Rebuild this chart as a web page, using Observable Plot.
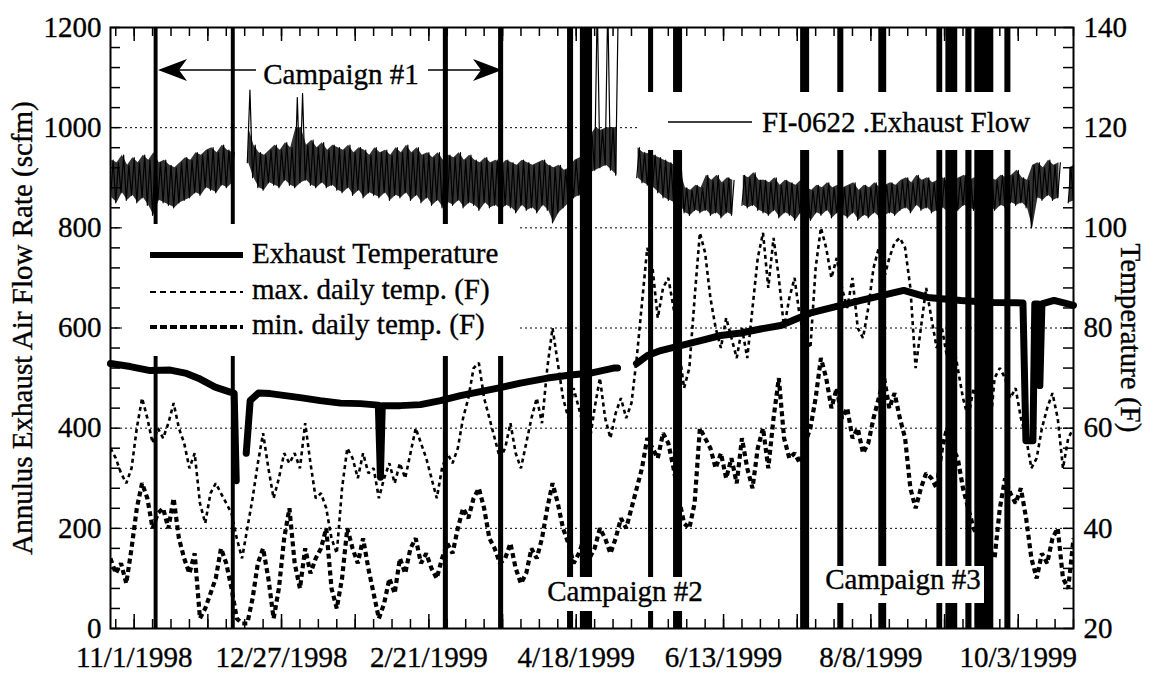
<!DOCTYPE html>
<html><head><meta charset="utf-8">
<script src="https://cdn.jsdelivr.net/npm/d3@7"></script>
<script src="https://cdn.jsdelivr.net/npm/@observablehq/plot@0.6"></script>
<style>
body{margin:0;background:#fff;}
#chart{width:1166px;height:675px;}
#chart text{stroke:#000;stroke-width:0.35px;}
</style></head><body><div id="chart"></div>
<script>
// ---------- DATA ----------
const xDomain = ["1998-10-23", "1999-10-24"];
const xTickLabels = ["1998-11-01","1998-12-27","1999-02-21","1999-04-18","1999-06-13","1999-08-08","1999-10-03"];
const flowTicks = [0, 200, 400, 600, 800, 1000, 1200];
const gridValues = [200, 400, 600, 800, 1000];

// daily series sampled every 2 days starting here
const sampleStart = "1998-10-23";

// FI-0622 exhaust flow (scfm): low / high of the noisy trace in each 2-day sample
const flowLow = [
 860,850,870,855,865,850,860,845,825,855,
 850,845,840,850,855,860,870,865,880,875,
 870,885,880,890,null,null,930,900,880,875,
 890,885,880,895,885,880,890,895,885,880,
 890,880,885,875,870,880,865,875,860,870,
 865,860,870,855,865,860,870,855,865,850,
 860,845,855,840,850,845,855,840,850,845,
 835,850,840,845,835,845,840,830,845,835,
 840,830,845,835,810,830,840,850,860,865,
 880,910,915,920,925,915,905,null,null,null,
 900,890,885,880,870,860,855,850,845,830,
 825,835,830,835,825,830,820,830,825,null,
 845,840,845,835,830,825,835,820,830,825,
 815,830,825,815,830,825,835,820,830,825,
 820,830,815,825,820,830,820,825,830,825,
 835,840,830,845,835,840,830,835,840,830,
 840,835,845,840,835,840,830,840,835,845,
 840,850,845,850,840,800,860,855,865,855,
 860,null,850,855];
const flowHigh = [
 935,930,945,925,940,930,945,935,950,930,
 935,925,920,930,940,935,950,945,955,960,
 950,965,955,950,null,null,1075,965,950,945,
 955,965,955,970,960,1060,1068,965,975,960,
 970,955,965,960,955,965,950,960,955,945,
 960,950,955,945,960,950,965,950,960,945,
 950,940,950,935,945,940,950,935,945,935,
 930,940,930,935,925,935,930,925,935,930,
 925,930,935,925,920,925,915,920,935,940,
 960,985,1250,995,1250,1000,1250,null,null,null,
 960,950,948,945,940,935,930,925,915,880,
 875,885,880,905,895,905,890,900,895,null,
 905,900,910,895,895,890,900,885,895,890,
 885,895,880,875,885,880,890,880,885,880,
 885,890,875,885,880,890,880,885,890,885,
 895,900,890,905,895,900,890,895,900,890,
 895,900,905,895,900,895,890,900,895,905,
 900,905,915,900,895,925,930,920,935,925,
 930,null,920,925];

// max. daily temp. (F)
const maxDailyTemp = [
 56,54,51,49,52,60,66,62,57,60,
 58,61,65,60,57,52,55,45,41,47,
 49,47,45,43,38,34,40,46,53,59,
 52,46,50,55,53,55,52,61,53,46,
 47,44,38,35,48,56,54,50,55,51,
 52,46,50,53,49,53,50,55,60,57,
 54,50,46,52,55,53,56,62,66,72,
 73,66,62,58,54,56,61,55,52,57,
 62,66,61,72,80,73,66,62,68,64,
 60,57,64,70,62,58,63,66,62,65,
 74,85,96,92,82,88,90,84,76,68,
 72,86,99,95,86,80,76,82,78,74,
 80,74,84,94,99,88,98,90,80,86,
 90,82,78,76,92,100,96,90,94,88,
 84,90,80,78,84,92,96,90,94,97,
 98,96,88,72,80,88,82,76,80,74,
 78,72,66,62,68,64,60,58,70,72,
 70,66,68,62,58,52,54,60,64,67,
 62,52,58,60];
// min. daily temp. (F)
const minDailyTemp = [
 34,31,33,29,36,44,49,46,40,43,
 44,40,46,38,34,31,35,22,24,27,
 30,36,33,28,22,21,21,26,33,36,
 30,22,28,38,44,33,28,36,31,34,
 36,40,28,24,30,40,36,33,38,32,
 27,22,25,30,27,34,31,36,38,33,
 35,32,30,34,37,35,40,44,42,46,
 48,44,38,36,33,34,37,32,29,31,
 36,34,38,44,49,45,40,37,33,35,
 38,34,36,40,38,35,38,42,40,44,
 48,52,58,56,54,59,57,52,46,41,
 40,45,60,58,56,52,55,50,54,49,
 58,52,48,56,60,52,62,70,58,54,
 55,53,57,60,66,74,70,64,68,62,
 64,58,60,55,57,62,66,70,64,67,
 62,58,48,44,48,51,50,48,56,60,
 56,54,48,44,40,38,42,36,34,44,
 50,47,45,48,42,34,30,35,33,38,
 40,30,28,38];

// Exhaust temperature (F)
const exhaustDates = [
 "1998-10-23 00","1998-10-30 12","1998-11-07 02","1998-11-14 17","1998-11-20 10","1998-11-26 02","1998-12-01 19","1998-12-07 12","1998-12-09 00","1998-12-09 19","1998-12-11 00",
 "1998-12-13 14","1998-12-15 02","1998-12-18 05","1998-12-22 17","1998-12-28 10","1999-01-03 02","1999-01-10 17","1999-01-18 10","1999-01-26 00","1999-02-01 19","1999-02-02 14","1999-02-03 07","1999-02-10 05","1999-02-17 19","1999-02-25 10","1999-03-05 00","1999-03-12 14","1999-03-20 05","1999-03-27 19","1999-04-07 02","1999-04-15 22","1999-04-23 12","1999-05-02 05","1999-05-03 17","1999-05-07 00",
 "1999-05-10 22","1999-05-15 02","1999-05-20 02","1999-05-27 17","1999-06-04 07","1999-06-11 22","1999-06-19 12","1999-06-27 02","1999-07-04 17","1999-07-16 02","1999-08-04 05","1999-08-20 12","1999-08-29 14","1999-09-11 05","1999-09-23 17","1999-10-04 19","1999-10-05 22","1999-10-08 14","1999-10-09 07","1999-10-10 12","1999-10-11 05","1999-10-12 00","1999-10-16 14","1999-10-24 00"];
const exhaustTemp = [
 72.9,72.3,71.5,71.6,71.0,69.8,68.2,67.2,67.0,49.5,null,
 55,65.5,67.0,66.9,66.5,66.1,65.5,65.0,64.9,64.6,50.2,64.5,64.5,64.7,65.5,66.5,67.3,68.1,69.0,70.0,70.6,71.0,72.0,72.0,null,
 72.9,74.5,75.5,76.5,77.5,78.5,79.0,79.8,80.5,83.0,85.5,87.5,86.1,85.5,85.1,85.0,57.5,57.5,84.8,84.8,68.5,84.8,85.5,84.5];

// flow signal dropouts (full-scale excursions)
const dropoutStart = ["1998-11-08 14","1998-12-07 22","1999-02-26 12","1999-03-19 12","1999-04-14 17","1999-04-19 14","1999-05-15 12","1999-05-25 00","1999-07-12 07","1999-07-26 10","1999-08-11 00","1999-09-02 02","1999-09-05 12","1999-09-13 02","1999-09-16 12","1999-09-27 22"];
const dropoutEnd   = ["1998-11-10 02","1998-12-09 10","1999-02-28 10","1999-03-21 10","1999-04-17 00","1999-04-24 05","1999-05-17 10","1999-05-28 10","1999-07-15 17","1999-07-28 17","1999-08-14 00","1999-09-04 07","1999-09-10 00","1999-09-15 10","1999-09-23 17","1999-09-30 05"];

// ---------- BUILD ----------
const FONT = "'Liberation Serif','Times New Roman',Times,serif";
const W = 1166, H = 675, ML = 110, MR = 93, MT = 27, MB = 47;
const PW = W - ML - MR, PH = H - MT - MB;
const pD = d3.utcParse("%Y-%m-%d");
const pH = d3.utcParse("%Y-%m-%d %H");
const t0 = pD(sampleStart);
const toFlow = T => (T == null ? NaN : (T - 20) * 10);   // right axis (F) -> left axis units

const sampleDates = maxDailyTemp.map((_, i) => d3.utcDay.offset(t0, 2 * i));
const tmaxData = sampleDates.map((d, i) => ({date: d, v: toFlow(maxDailyTemp[i])}));
const tminData = sampleDates.map((d, i) => ({date: d, v: toFlow(minDailyTemp[i])}));
const flowData = [];
sampleDates.forEach((d, i) => {
  flowData.push({date: d, v: flowLow[i] == null ? NaN : flowLow[i]});
  flowData.push({date: d3.utcDay.offset(d, 1), v: flowHigh[i] == null ? NaN : flowHigh[i]});
});
const flowBand = sampleDates.map((d, i) => ({date: d3.utcHour.offset(d, 12), lo: flowLow[i] == null ? NaN : flowLow[i], hi: flowHigh[i] == null ? NaN : Math.min(flowHigh[i], 1000)}));
const exhaustData = exhaustDates.map((s, i) => ({date: pH(s), v: toFlow(exhaustTemp[i])}));
const dropouts = dropoutStart.map((s, i) => ({start: pH(s), end: pH(dropoutEnd[i])}));

const dom = xDomain.map(pD);
const labelDates = xTickLabels.map(pD);
const weekTicks = d3.utcSunday.range(dom[0], d3.utcDay.offset(dom[1], 1));
const monthTicks = weekTicks.filter(d => Math.round((d - labelDates[0]) / 864e5) % 28 === 0);
const yMinor = d3.range(0, 1201, 40);
const fmtDate = d => `${d.getUTCMonth() + 1}/${d.getUTCDate()}/${d.getUTCFullYear()}`;

const svg = Plot.plot({
  width: W, height: H,
  marginLeft: ML, marginRight: MR, marginTop: MT, marginBottom: MB,
  style: {fontFamily: FONT, fontSize: "29px", background: "#fff", color: "#000"},
  x: {type: "utc", domain: dom},
  y: {domain: [0, 1200]},
  marks: [
    Plot.ruleY(gridValues, {y: d => d, stroke: "#000", strokeWidth: 1, strokeDasharray: "2,3"}),
    Plot.line(tmaxData, {x: "date", y: "v", stroke: "#000", strokeWidth: 2.6, strokeDasharray: "4,3.5", strokeLinecap: "butt", strokeLinejoin: "miter", clip: true}),
    Plot.line(tminData, {x: "date", y: "v", stroke: "#000", strokeWidth: 4.2, strokeDasharray: "5,3.5", strokeLinecap: "butt", strokeLinejoin: "miter", clip: true}),
    Plot.line(exhaustData, {x: "date", y: "v", stroke: "#000", strokeWidth: 7, strokeLinejoin: "round"}),
    Plot.areaY(flowBand, {x: "date", y1: "lo", y2: "hi", fill: "#000", fillOpacity: 0.8, curve: "linear", clip: true}),
    Plot.line(flowData, {x: "date", y: "v", stroke: "#000", strokeWidth: 1.2, clip: true}),
    Plot.rect(dropouts, {x1: "start", x2: "end", y1: 0, y2: 1200, fill: "#000"}),
    // inward ticks
    Plot.tickY(yMinor, {y: d => d, insetRight: PW - 10, stroke: "#000", strokeWidth: 1.5}),
    Plot.tickY(yMinor, {y: d => d, insetLeft: PW - 10, stroke: "#000", strokeWidth: 1.5}),
    Plot.tickX(weekTicks, {x: d => d, insetTop: PH - 9, stroke: "#000", strokeWidth: 1.5}),
    Plot.tickX(weekTicks, {x: d => d, insetBottom: PH - 9, stroke: "#000", strokeWidth: 1.5}),
    Plot.tickX(monthTicks, {x: d => d, insetTop: PH - 14, stroke: "#000", strokeWidth: 1.5}),
    Plot.tickX(monthTicks, {x: d => d, insetBottom: PH - 14, stroke: "#000", strokeWidth: 1.5}),
    Plot.frame({stroke: "#000", strokeWidth: 2}),
    Plot.axisY({anchor: "left", ticks: flowTicks, tickSize: 0, tickPadding: 9, label: null, fontSize: 29, tickFormat: v => String(v)}),
    Plot.axisY({anchor: "right", ticks: flowTicks, tickSize: 0, tickPadding: 10, label: null, fontSize: 29, tickFormat: v => String(v / 10 + 20)}),
    Plot.axisX({ticks: labelDates, tickSize: 0, tickPadding: 18, label: null, fontSize: 29, tickFormat: fmtDate}),
    Plot.text(["Annulus Exhaust Air Flow Rate (scfm)"], {text: d => d, frameAnchor: "left", textAnchor: "middle", lineAnchor: "middle", dx: -88, rotate: -90, fontSize: 29}),
    Plot.text(["Temperature (F)"], {text: d => d, frameAnchor: "right", textAnchor: "middle", lineAnchor: "middle", dx: 57, dy: 10, rotate: 90, fontSize: 29})
  ]
});
document.getElementById("chart").appendChild(svg);

// ---------- in-plot legends & annotations ----------
const g = d3.select(svg).append("g").attr("font-family", FONT).attr("font-size", 29).attr("fill", "#000").attr("text-anchor", "start");
// left legend
g.append("rect").attr("x", 122).attr("y", 224).attr("width", 396).attr("height", 132).attr("fill", "#fff").attr("stroke", "none");
g.append("line").attr("x1", 150).attr("x2", 243).attr("y1", 255).attr("y2", 255).attr("stroke", "#000").attr("stroke-width", 6);
g.append("line").attr("x1", 150).attr("x2", 243).attr("y1", 292).attr("y2", 292).attr("stroke", "#000").attr("stroke-width", 2).attr("stroke-dasharray", "6,4");
g.append("line").attr("x1", 150).attr("x2", 243).attr("y1", 327).attr("y2", 327).attr("stroke", "#000").attr("stroke-width", 4).attr("stroke-dasharray", "7,3");
g.append("text").attr("x", 252).attr("y", 263).text("Exhaust Temperature");
g.append("text").attr("x", 252).attr("y", 299).text("max. daily temp. (F)");
g.append("text").attr("x", 252).attr("y", 334).text("min. daily temp. (F)");
// flow legend
g.append("rect").attr("x", 640).attr("y", 92).attr("width", 422).attr("height", 58).attr("fill", "#fff");
g.append("line").attr("x1", 668).attr("x2", 752).attr("y1", 122).attr("y2", 122).attr("stroke", "#000").attr("stroke-width", 1.5);
g.append("text").attr("x", 762).attr("y", 132).text("FI-0622 .Exhaust Flow");
// campaign #1
g.append("text").attr("x", 341).attr("y", 84).attr("text-anchor", "middle").text("Campaign #1");
g.append("line").attr("x1", 170).attr("x2", 256).attr("y1", 70).attr("y2", 70).attr("stroke", "#000").attr("stroke-width", 1.5);
g.append("line").attr("x1", 428).attr("x2", 490).attr("y1", 70).attr("y2", 70).attr("stroke", "#000").attr("stroke-width", 1.5);
g.append("path").attr("d", "M158,70 L187,59 L179,70 L187,81 Z").attr("fill", "#000");
g.append("path").attr("d", "M502,70 L473,59 L481,70 L473,81 Z").attr("fill", "#000");
// campaign #2, #3
g.append("rect").attr("x", 545).attr("y", 577).attr("width", 160).attr("height", 34).attr("fill", "#fff");
g.append("text").attr("x", 625).attr("y", 601).attr("text-anchor", "middle").text("Campaign #2");
g.append("rect").attr("x", 823).attr("y", 566).attr("width", 161).attr("height", 37).attr("fill", "#fff");
g.append("text").attr("x", 903).attr("y", 589).attr("text-anchor", "middle").text("Campaign #3");
</script></body></html>
